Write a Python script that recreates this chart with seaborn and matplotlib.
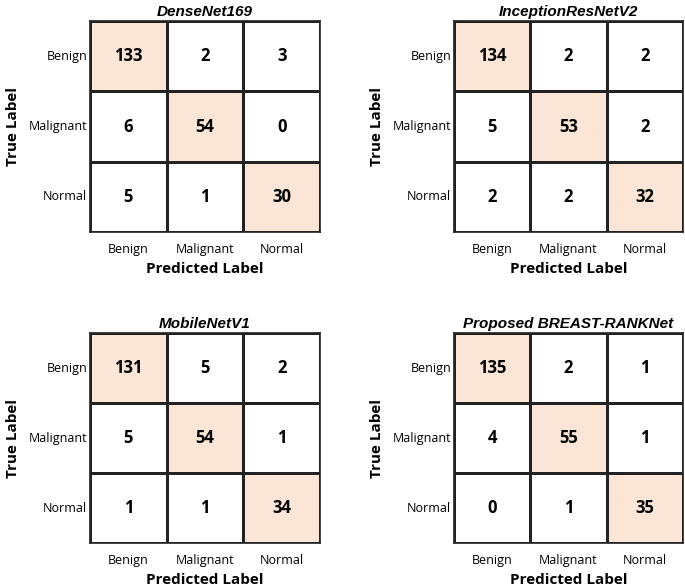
import numpy as np
import seaborn as sns
import matplotlib.pyplot as plt
from matplotlib.colors import ListedColormap

# Class labels and confusion matrices
labels = ["Benign", "Malignant", "Normal"]
titles = ["DenseNet169", "InceptionResNetV2", "MobileNetV1", "Proposed BREAST-RANKNet"]
cm_densenet = [[133, 2, 3], [6, 54, 0], [5, 1, 30]]
cm_inception = [[134, 2, 2], [5, 53, 2], [2, 2, 32]]
cm_mobilenet = [[131, 5, 2], [5, 54, 1], [1, 1, 34]]
cm_proposed = [[135, 2, 1], [4, 55, 1], [0, 1, 35]]
matrices = [cm_densenet, cm_inception, cm_mobilenet, cm_proposed]

sns.set_style("white")
plt.rcParams['font.family'] = ['Open Sans', 'DejaVu Sans']
plt.rcParams['text.color'] = 'black'
plt.rcParams['axes.labelcolor'] = 'black'
plt.rcParams['xtick.color'] = 'black'
plt.rcParams['ytick.color'] = 'black'

fig = plt.figure(figsize=(6.85, 5.86), dpi=100)

# axes boxes in figure fractions
positions = [
    [0.1314, 0.604, 0.3358, 0.360],
    [0.6628, 0.604, 0.3343, 0.360],
    [0.1314, 0.0734, 0.3358, 0.358],
    [0.6628, 0.0734, 0.3343, 0.358],
]

cmap = ListedColormap(["white", "#fbe5d6"])

for pos, cm, title in zip(positions, matrices, titles):
    ax = fig.add_axes(pos)
    cm = np.array(cm)
    diag = np.eye(cm.shape[0])
    sns.heatmap(diag, annot=cm, fmt="d", cmap=cmap, cbar=False, vmin=0, vmax=1,
                linewidths=1.0, linecolor="#222222",
                xticklabels=labels, yticklabels=labels,
                annot_kws={"fontsize": 12, "fontweight": "bold", "color": "black"}, ax=ax)
    for s in ax.spines.values():
        s.set_visible(True)
        s.set_color("#222222")
        s.set_linewidth(1.2)
    ax.tick_params(axis="both", length=0, labelsize=9)
    ax.tick_params(axis="x", pad=8)
    ax.tick_params(axis="y", pad=2)
    plt.setp(ax.get_yticklabels(), rotation=0)
    ax.set_title(title, fontsize=11, fontweight="bold", fontstyle="italic",
                 family="Liberation Sans", pad=4)
    ax.set_xlabel("Predicted Label", fontsize=11, fontweight="bold", labelpad=4)
    ax.set_ylabel("True Label", fontsize=11, fontweight="bold", labelpad=6)

plt.savefig("out.png", dpi=100)
